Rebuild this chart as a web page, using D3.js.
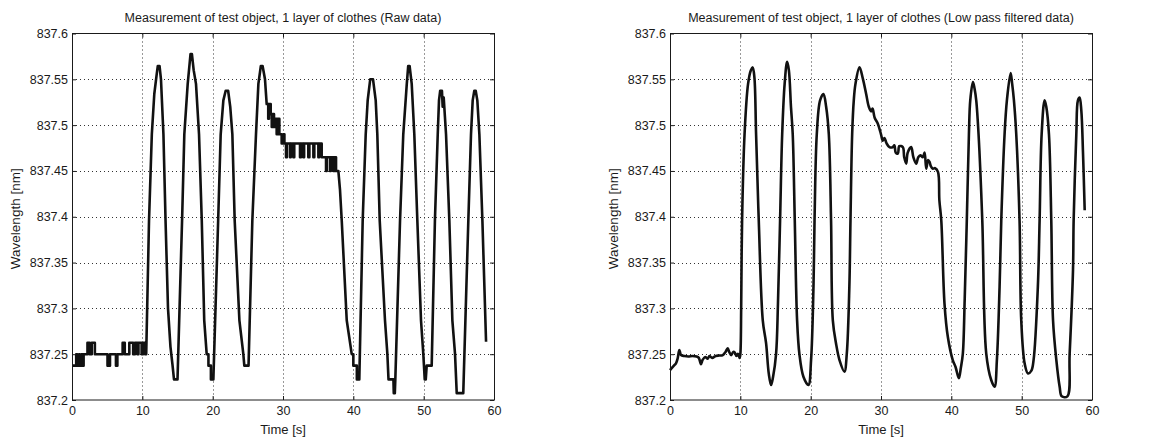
<!DOCTYPE html>
<html>
<head>
<meta charset="utf-8">
<script src="https://cdn.jsdelivr.net/npm/d3@7"></script>
<style>
  body { margin: 0; background: #fff; }
  svg { display: block; }
</style>
</head>
<body>
<div id="chart"></div>
<script>
// ##################################
//  DATA
// ##################################

const rawTitle = "Measurement of test object, 1 layer of clothes (Raw data)"
const filteredTitle = "Measurement of test object, 1 layer of clothes (Low pass filtered data)"
const xLabel = "Time [s]"
const yLabel = "Wavelength [nm]"

const xTicks = [0, 10, 20, 30, 40, 50, 60]
const yTicks = [837.2, 837.25, 837.3, 837.35, 837.4, 837.45, 837.5, 837.55, 837.6]

const rawPoints = [
  [0, 837.2375], [0.6, 837.2375], [0.6, 837.25], [0.75, 837.25], [0.75, 837.2375],
  [1.0, 837.2375], [1.0, 837.25], [1.1, 837.25], [1.1, 837.2375], [1.35, 837.2375],
  [1.35, 837.25], [1.5, 837.25], [1.5, 837.2375], [1.65, 837.2375], [1.65, 837.25],
  [2.2, 837.25], [2.2, 837.2625], [2.5, 837.2625], [2.5, 837.25], [2.8, 837.25],
  [2.8, 837.2625], [3.25, 837.2625], [3.25, 837.25], [5.05, 837.25], [5.05, 837.2375],
  [5.4, 837.2375], [5.4, 837.25], [6.25, 837.25], [6.25, 837.2375], [6.45, 837.2375],
  [6.45, 837.25], [7.2, 837.25], [7.2, 837.2625], [7.5, 837.2625], [7.5, 837.25],
  [8.15, 837.25], [8.15, 837.2625], [8.7, 837.2625], [8.7, 837.25], [8.95, 837.25],
  [8.95, 837.2625], [9.3, 837.2625], [9.3, 837.25], [9.45, 837.25], [9.45, 837.2625],
  [9.9, 837.2625], [9.9, 837.25], [10.1, 837.25], [10.1, 837.2625], [10.4, 837.2625],
  [10.4, 837.25], [10.55, 837.25],
  [10.95, 837.396], [11.35, 837.49], [11.7, 837.534], [12.05, 837.556], [12.2, 837.5645],
  [12.45, 837.5645], [12.65, 837.55], [13.0, 837.49], [13.3, 837.396], [13.65, 837.3],
  [14.0, 837.258], [14.3, 837.2375], [14.5, 837.2225], [15.0, 837.2225],
  [15.65, 837.396], [15.97, 837.49], [16.45, 837.545], [16.85, 837.5775], [17.05, 837.5775],
  [17.3, 837.56], [17.63, 837.545], [18.06, 837.49], [18.45, 837.396], [18.8, 837.287],
  [19.15, 837.25], [19.4, 837.25], [19.4, 837.2375], [19.75, 837.2375], [19.75, 837.2225],
  [20.1, 837.2225], [20.78, 837.396], [21.14, 837.49], [21.52, 837.527], [21.85, 837.5375],
  [22.2, 837.5375], [22.5, 837.52], [22.8, 837.49], [23.13, 837.396], [23.8, 837.287],
  [24.36, 837.25], [24.5, 837.2375], [25.1, 837.2375], [25.64, 837.396], [26.16, 837.49],
  [26.5, 837.545], [26.85, 837.5645], [27.1, 837.5645], [27.44, 837.55], [27.68, 837.523],
  [27.9, 837.523], [27.9, 837.507], [28.0, 837.507], [28.0, 837.523], [28.25, 837.523],
  [28.25, 837.512], [28.4, 837.512], [28.4, 837.498], [28.5, 837.498], [28.5, 837.512],
  [28.72, 837.512], [28.72, 837.498], [28.9, 837.498], [28.9, 837.507], [29.1, 837.507],
  [29.1, 837.49], [29.25, 837.49], [29.25, 837.507], [29.48, 837.507], [29.48, 837.49],
  [29.81, 837.49], [29.81, 837.48], [30.05, 837.48], [30.05, 837.49], [30.2, 837.49],
  [30.2, 837.48], [30.43, 837.48], [30.43, 837.465], [30.55, 837.465], [30.55, 837.48],
  [31.0, 837.48], [31.0, 837.465], [31.1, 837.465], [31.1, 837.48], [31.47, 837.48],
  [31.47, 837.465], [31.6, 837.465], [31.6, 837.48], [32.42, 837.48], [32.42, 837.465],
  [32.55, 837.465], [32.55, 837.48], [32.89, 837.48], [32.89, 837.465], [33.0, 837.465],
  [33.0, 837.48], [33.6, 837.48], [33.6, 837.465], [33.75, 837.465], [33.75, 837.48],
  [34.32, 837.48], [34.32, 837.465], [34.45, 837.465], [34.45, 837.48], [35.03, 837.48],
  [35.03, 837.465], [35.15, 837.465], [35.15, 837.48], [35.5, 837.48], [35.5, 837.465],
  [36.12, 837.465], [36.12, 837.45], [36.22, 837.45], [36.22, 837.465], [36.68, 837.465],
  [36.68, 837.45], [36.8, 837.45], [36.8, 837.465], [37.16, 837.465], [37.16, 837.45],
  [37.3, 837.45], [37.3, 837.465], [37.54, 837.465], [37.54, 837.45], [37.87, 837.45],
  [38.1, 837.43], [38.35, 837.396], [39.06, 837.287], [39.62, 837.258], [39.77, 837.25],
  [40.0, 837.25], [40.0, 837.2375], [40.5, 837.2375], [40.5, 837.2225], [40.85, 837.2225],
  [41.33, 837.396], [41.76, 837.49], [42.04, 837.527], [42.4, 837.55], [42.8, 837.55],
  [43.18, 837.527], [43.41, 837.49], [43.75, 837.396], [44.5, 837.287], [44.84, 837.25],
  [45.0, 837.2225], [45.7, 837.2225], [45.75, 837.2075], [45.9, 837.2075], [45.97, 837.2225],
  [46.64, 837.396], [47.1, 837.49], [47.6, 837.545], [47.8, 837.5645], [48.0, 837.5645],
  [48.3, 837.545], [48.67, 837.49], [49.1, 837.396], [49.62, 837.287], [49.95, 837.25],
  [50.15, 837.2225], [50.3, 837.2225], [50.43, 837.2375], [51.14, 837.2375], [51.6, 837.396],
  [52.0, 837.49], [52.18, 837.527], [52.35, 837.5375], [52.6, 837.5375], [52.7, 837.52],
  [52.85, 837.53], [53.18, 837.49], [53.65, 837.396], [54.08, 837.287], [54.46, 837.25],
  [54.7, 837.2075], [55.63, 837.2075], [56.35, 837.396], [56.73, 837.49], [56.97, 837.527],
  [57.2, 837.5375], [57.4, 837.5375], [57.63, 837.527], [57.92, 837.49], [58.35, 837.396],
  [58.87, 837.2635],
]

// [time s, wavelength nm]
const filteredPoints = [
  [0, 837.2327], [0.62, 837.238], [0.85, 837.24], [1.09, 837.2455], [1.33, 837.2545],
  [1.57, 837.249], [2.04, 837.248], [2.6, 837.2475], [3.2, 837.248], [3.8, 837.2475],
  [4.1, 837.246], [4.4, 837.239], [4.65, 837.244], [5.0, 837.247], [5.36, 837.245],
  [5.6, 837.248], [6.0, 837.246], [6.5, 837.248], [7.0, 837.2485], [7.5, 837.249],
  [7.9, 837.2525], [8.2, 837.2563], [8.45, 837.252], [8.7, 837.249], [9.0, 837.2525],
  [9.2, 837.252], [9.45, 837.248], [9.65, 837.2505], [9.9, 837.246],
  [10.0, 837.25], [10.12, 837.3], [10.25, 837.396], [10.6, 837.49], [11.1, 837.545],
  [11.5, 837.56], [11.76, 837.563], [12.0, 837.552], [12.24, 837.49], [12.62, 837.396],
  [13.19, 837.287], [13.66, 837.262], [14.04, 837.229], [14.37, 837.2163], [14.65, 837.225],
  [15.08, 837.25], [15.35, 837.305], [15.65, 837.396], [15.95, 837.49], [16.3, 837.545],
  [16.65, 837.569], [16.9, 837.56], [17.2, 837.52], [17.45, 837.49], [17.74, 837.396],
  [18.07, 837.287], [18.4, 837.25], [18.97, 837.2254], [19.68, 837.2163], [20.06, 837.244],
  [20.4, 837.3235], [20.55, 837.396], [20.87, 837.49], [21.34, 837.527], [21.82, 837.534],
  [22.2, 837.52], [22.58, 837.49], [22.9, 837.396], [23.15, 837.287], [23.6, 837.262],
  [24.1, 837.2436], [24.8, 837.231], [25.14, 837.251], [25.5, 837.3235], [25.66, 837.396],
  [25.9, 837.49], [26.13, 837.527], [26.37, 837.545], [26.94, 837.563], [27.41, 837.551],
  [27.89, 837.534], [28.27, 837.52], [28.6, 837.515], [28.8, 837.518], [29.1, 837.508],
  [29.55, 837.5016], [30.0, 837.49], [30.26, 837.483], [30.5, 837.486], [30.8, 837.48],
  [31.2, 837.476], [31.68, 837.476], [31.9, 837.478], [32.1, 837.47], [32.4, 837.469],
  [32.6, 837.477], [33.1, 837.476], [33.3, 837.465], [33.58, 837.458], [33.8, 837.47],
  [34.29, 837.476], [34.6, 837.465], [35.0, 837.458], [35.3, 837.465], [35.6, 837.467],
  [35.95, 837.465], [36.2, 837.47], [36.43, 837.4525], [36.7, 837.462], [36.9, 837.46],
  [37.1, 837.455], [37.38, 837.4525], [37.7, 837.453], [38.1, 837.449], [38.3, 837.418],
  [38.57, 837.396], [39.03, 837.305], [39.5, 837.269], [40.2, 837.2436], [40.6, 837.236],
  [41.07, 837.2237], [41.35, 837.235], [41.64, 837.251], [41.9, 837.31], [42.2, 837.396],
  [42.5, 837.49], [42.69, 837.527], [43.07, 837.547], [43.3, 837.54], [43.54, 837.527],
  [43.87, 837.49], [44.4, 837.396], [44.96, 837.251], [45.67, 837.2218], [46.15, 837.2145],
  [46.48, 837.244], [46.86, 837.3235], [47.1, 837.396], [47.57, 837.49], [47.9, 837.527],
  [48.43, 837.5567], [48.65, 837.545], [48.9, 837.527], [49.23, 837.49], [49.7, 837.396],
  [49.94, 837.287], [50.42, 837.24], [50.9, 837.229], [51.38, 837.232], [51.7, 837.244],
  [52.3, 837.3235], [52.55, 837.396], [52.84, 837.49], [53.26, 837.527], [53.5, 837.52],
  [53.88, 837.49], [54.21, 837.396], [54.46, 837.287], [54.93, 837.2436], [55.4, 837.2145],
  [55.7, 837.204], [56.5, 837.204], [56.82, 837.25], [57.3, 837.342], [57.39, 837.396],
  [57.77, 837.49], [58.0, 837.527], [58.24, 837.53], [58.48, 837.516], [58.72, 837.47],
  [58.96, 837.407],
]

// ##################################
//  LAYOUT
// ##################################

const width = 1152
const height = 441
const plotTop = 33.5
const plotBottom = 400
const font = "'Liberation Sans', Arial, Helvetica, sans-serif"
const fontSize = 12.5
const ink = "#1a1a1a"

const panels = [
  { title: rawTitle, points: rawPoints, left: 72, right: 494, yLabelX: 20, curve: d3.curveLinear },
  { title: filteredTitle, points: filteredPoints, left: 670, right: 1092, yLabelX: 618, curve: d3.curveCatmullRom },
]

const svg = d3
  .select("#chart")
  .append("svg")
  .attr("width", width)
  .attr("height", height)
  .attr("font-family", font)
  .attr("font-size", fontSize)

const styleAxis = (g) =>
  g
    .attr("font-family", font)
    .attr("font-size", fontSize)
    .call((g) => g.select(".domain").remove())
    .call((g) => g.selectAll(".tick line").attr("stroke", ink))
    .call((g) => g.selectAll(".tick text").attr("fill", ink))

panels.forEach((p) => {
  const x = d3.scaleLinear().domain([0, 60]).range([p.left, p.right])
  const y = d3.scaleLinear().domain([837.2, 837.6]).range([plotBottom, plotTop])
  const g = svg.append("g")

  // dotted grid
  g.append("g")
    .attr("stroke", "#333")
    .attr("stroke-dasharray", "1,3")
    .call((grid) =>
      grid
        .selectAll("line.v")
        .data(xTicks.slice(1, -1))
        .join("line")
        .attr("class", "v")
        .attr("x1", (d) => Math.round(x(d)) + 0.5)
        .attr("x2", (d) => Math.round(x(d)) + 0.5)
        .attr("y1", plotTop)
        .attr("y2", plotBottom)
    )
    .call((grid) =>
      grid
        .selectAll("line.h")
        .data(yTicks.slice(1, -1))
        .join("line")
        .attr("class", "h")
        .attr("x1", p.left)
        .attr("x2", p.right)
        .attr("y1", (d) => Math.round(y(d)) + 0.5)
        .attr("y2", (d) => Math.round(y(d)) + 0.5)
    )

  // the trace
  const line = d3
    .line()
    .x((d) => x(d[0]))
    .y((d) => y(d[1]))
    .curve(p.curve)

  g.append("path")
    .datum(p.points)
    .attr("fill", "none")
    .attr("stroke", "#111")
    .attr("stroke-width", 2.6)
    .attr("stroke-linejoin", "round")
    .attr("d", line)

  // axes, ticks pointing inwards like matlab
  g.append("g")
    .attr("transform", `translate(0,${plotBottom})`)
    .call(d3.axisBottom(x).tickValues(xTicks).tickSizeInner(-4).tickSizeOuter(0).tickPadding(6))
    .call(styleAxis)

  g.append("g")
    .attr("transform", `translate(0,${plotTop})`)
    .call(d3.axisTop(x).tickValues(xTicks).tickFormat("").tickSizeInner(-4).tickSizeOuter(0))
    .call(styleAxis)

  g.append("g")
    .attr("transform", `translate(${p.left},0)`)
    .call(
      d3
        .axisLeft(y)
        .tickValues(yTicks)
        .tickFormat((d) => String(+d.toFixed(2)))
        .tickSizeInner(-4)
        .tickSizeOuter(0)
        .tickPadding(4)
    )
    .call(styleAxis)

  g.append("g")
    .attr("transform", `translate(${p.right},0)`)
    .call(d3.axisRight(y).tickValues(yTicks).tickFormat("").tickSizeInner(-4).tickSizeOuter(0))
    .call(styleAxis)

  // box
  g.append("rect")
    .attr("x", p.left + 0.5)
    .attr("y", plotTop)
    .attr("width", p.right - p.left)
    .attr("height", plotBottom - plotTop)
    .attr("fill", "none")
    .attr("stroke", ink)

  // texts
  const cx = (p.left + p.right) / 2
  g.append("text")
    .attr("x", cx)
    .attr("y", 22.3)
    .attr("text-anchor", "middle")
    .attr("fill", ink)
    .text(p.title)

  g.append("text")
    .attr("x", cx)
    .attr("y", 434)
    .attr("text-anchor", "middle")
    .attr("fill", ink)
    .attr("font-size", 13)
    .text(xLabel)

  g.append("text")
    .attr("transform", `translate(${p.yLabelX},${(plotTop + plotBottom) / 2 + 2}) rotate(-90)`)
    .attr("text-anchor", "middle")
    .attr("fill", ink)
    .attr("font-size", 13.5)
    .text(yLabel)
})
</script>
</body>
</html>
